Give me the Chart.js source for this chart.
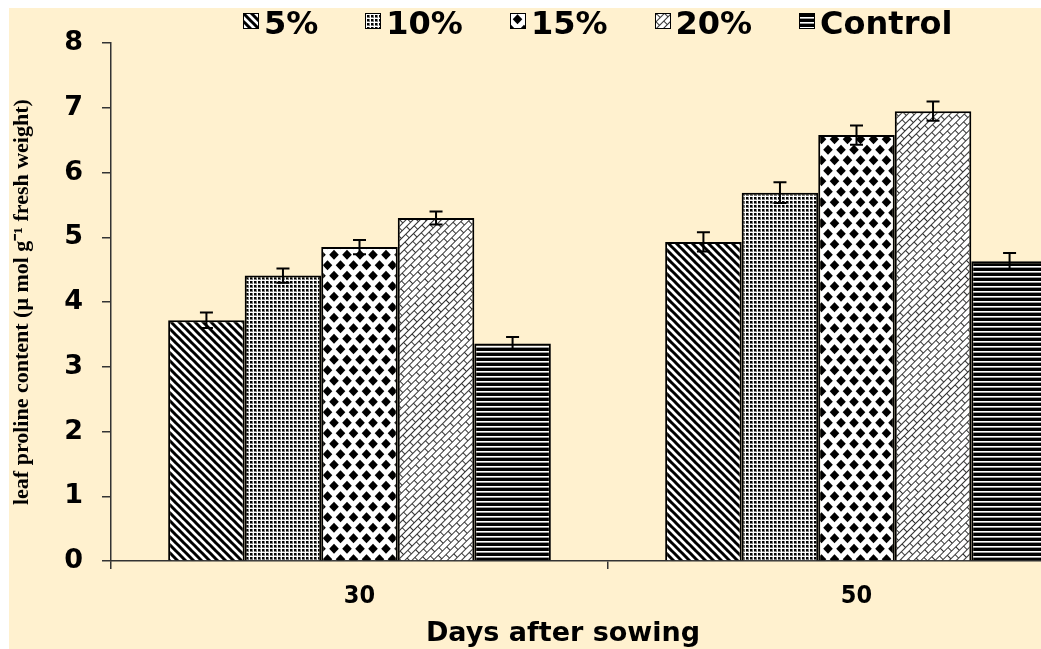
<!DOCTYPE html>
<html>
<head>
<meta charset="utf-8">
<script src="https://cdn.jsdelivr.net/npm/chart.js@4.4.1/dist/chart.umd.min.js"></script>
<style>
  html, body { margin: 0; padding: 0; background: #fff; overflow: hidden; width: 1041px; height: 649px; }
  #wrap { position: absolute; left: 9px; top: 8px; width: 1100px; height: 641px; background: #FFF1CF; }
  #c { position: absolute; left: 0; top: 0; }
  #legend { position: absolute; left: 234px; top: -2px; display: flex; align-items: flex-start; }
  .item { display: flex; align-items: flex-start; margin-right: 47px; }
  .item canvas { margin-top: 7px; margin-right: 5px; border: 1px solid #000; }
  .item span { font: bold 32px 'DejaVu Sans', sans-serif; line-height: 34px; color: #000; }
</style>
</head>
<body>
<div id="wrap">
  <canvas id="c" width="1100" height="641"></canvas>
  <div id="legend"></div>
</div>
<script>
// data
const categories = ['30', '50'];
const seriesNames = ['5%', '10%', '15%', '20%', 'Control'];
const pct5 = [3.72, 4.93];
const pct10 = [4.41, 5.69];
const pct15 = [4.85, 6.58];
const pct20 = [5.30, 6.95];
const control = [3.36, 4.63];
const err5 = [0.12, 0.15];
const err10 = [0.11, 0.16];
const err15 = [0.11, 0.15];
const err20 = [0.10, 0.15];
const errControl = [0.10, 0.13];
const yMin = 0, yMax = 8, yStep = 1;
const yTitle = 'leaf proline content (\u03bc mol g\u207b\u00b9 fresh weight)';
const xTitle = 'Days after sowing';

// pattern tiles (black & white fills like the original)
function tile(w, h, draw) {
  const t = document.createElement('canvas');
  t.width = w; t.height = h;
  draw(t.getContext('2d'), w, h);
  return t;
}
const tiles = [
  // 5%: "\" stripes
  tile(8, 8, (g, w, h) => {
    g.fillStyle = '#fff'; g.fillRect(0, 0, w, h);
    g.strokeStyle = '#000'; g.lineWidth = 3;
    g.beginPath();
    for (const o of [-8, 0, 8]) { g.moveTo(o - 1, -1); g.lineTo(o + 9, 9); }
    g.stroke();
  }),
  // 10%: fine grid
  tile(4, 4, (g, w, h) => {
    g.fillStyle = '#777'; g.fillRect(0, 0, w, h);
    g.fillStyle = '#000'; g.fillRect(1, 1, 2, 2);
    g.fillStyle = '#fff'; g.fillRect(0, 0, w, 1); g.fillRect(0, 0, 1, h);
  }),
  // 15%: diamonds
  tile(13, 21, (g, w, h) => {
    g.fillStyle = '#fff'; g.fillRect(0, 0, w, h);
    g.fillStyle = '#000';
    const dia = (cx, cy) => {
      g.beginPath();
      g.moveTo(cx, cy - 5); g.lineTo(cx + 4.8, cy); g.lineTo(cx, cy + 5); g.lineTo(cx - 4.8, cy);
      g.closePath(); g.fill();
    };
    dia(6.5, 5.25);
    dia(0, 15.75); dia(13, 15.75);
  }),
  // 20%: diagonal brick
  tile(12, 10, (g, w, h) => {
    g.fillStyle = '#fff'; g.fillRect(0, 0, w, h);
    g.strokeStyle = '#333'; g.lineWidth = 1;
    g.beginPath();
    g.moveTo(0, 0.5); g.lineTo(w, 0.5);
    g.moveTo(0, 5.5); g.lineTo(w, 5.5);
    g.moveTo(0.5, 0); g.lineTo(0.5, 5);
    g.moveTo(6.5, 5); g.lineTo(6.5, 10);
    g.stroke();
  }),
  // Control: horizontal stripes
  tile(4, 5, (g, w, h) => {
    g.fillStyle = '#000'; g.fillRect(0, 0, w, h);
    g.fillStyle = '#fff'; g.fillRect(0, 3, w, 1);
    g.fillStyle = '#999'; g.fillRect(0, 4, w, 1);
  })
];
function patternFor(ctx, i) {
  const p = ctx.createPattern(tiles[i], 'repeat');
  if (i === 3) p.setTransform(new DOMMatrix().rotate(-45));
  return p;
}

const ctx = document.getElementById('c').getContext('2d');
const values = [pct5, pct10, pct15, pct20, control];
const errors = [err5, err10, err15, err20, errControl];

const errorBars = {
  id: 'errorBars',
  afterDatasetsDraw(chart) {
    const g = chart.ctx, y = chart.scales.y;
    g.save();
    g.strokeStyle = '#000';
    g.lineWidth = 2;
    chart.data.datasets.forEach((ds, i) => {
      chart.getDatasetMeta(i).data.forEach((bar, j) => {
        const top = y.getPixelForValue(ds.data[j] + ds.errors[j]);
        const bot = y.getPixelForValue(ds.data[j] - ds.errors[j]);
        g.beginPath();
        g.moveTo(bar.x, top); g.lineTo(bar.x, bot);
        g.moveTo(bar.x - 6.5, top); g.lineTo(bar.x + 6.5, top);
        g.moveTo(bar.x - 6.5, bot); g.lineTo(bar.x + 6.5, bot);
        g.stroke();
      });
    });
    g.restore();
  }
};

const xCaption = {
  id: 'xCaption',
  afterDraw(chart) {
    const g = chart.ctx;
    g.save();
    g.font = 'bold 27px "DejaVu Sans", sans-serif';
    g.fillStyle = '#000';
    g.textAlign = 'center';
    g.textBaseline = 'alphabetic';
    g.fillText(xTitle, 554, 633);
    g.restore();
  }
};

const chart = new Chart(ctx, {
  type: 'bar',
  data: {
    labels: categories,
    datasets: seriesNames.map((name, i) => ({
      label: name,
      data: values[i],
      errors: errors[i],
      backgroundColor: patternFor(ctx, i),
      borderColor: '#000',
      borderWidth: 2,
      barPercentage: 1,
      categoryPercentage: 0.77
    }))
  },
  options: {
    responsive: false,
    animation: false,
    layout: { padding: { top: 35, right: 4, left: 0, bottom: 0 } },
    plugins: { legend: { display: false }, tooltip: { enabled: false } },
    scales: {
      x: {
        offset: true,
        grid: { drawOnChartArea: false, offset: true, tickLength: 8, color: '#333', lineWidth: 1.5 },
        border: { color: '#333', width: 1.5 },
        ticks: { color: '#000', padding: 12, font: { family: '"Liberation Sans Narrow", "DejaVu Sans Condensed", sans-serif', weight: 'bold', size: 25 } },
        afterFit(s) { s.height = 88; }
      },
      y: {
        min: yMin, max: yMax,
        grid: { drawOnChartArea: false, tickLength: 9, color: '#333', lineWidth: 1.5 },
        border: { color: '#333', width: 1.5 },
        ticks: { stepSize: yStep, color: '#000', padding: 19, font: { family: 'DejaVu Sans', weight: 'bold', size: 27 } },
        title: {
          display: true, text: yTitle, color: '#000',
          font: { family: 'Liberation Serif', weight: 'bold', size: 22 },
          padding: { top: 0, bottom: 0 }
        },
        afterFit(s) { s.width = 102; }
      }
    }
  },
  plugins: [errorBars, xCaption]
});

// html legend built from the chart datasets
const legend = document.getElementById('legend');
chart.data.datasets.forEach((ds, i) => {
  const item = document.createElement('div');
  item.className = 'item';
  const sw = document.createElement('canvas');
  sw.width = 14; sw.height = 14;
  const sg = sw.getContext('2d');
  sg.fillStyle = patternFor(sg, i);
  sg.fillRect(0, 0, 14, 14);
  const label = document.createElement('span');
  label.textContent = ds.label;
  item.appendChild(sw);
  item.appendChild(label);
  legend.appendChild(item);
});
</script>
</body>
</html>
